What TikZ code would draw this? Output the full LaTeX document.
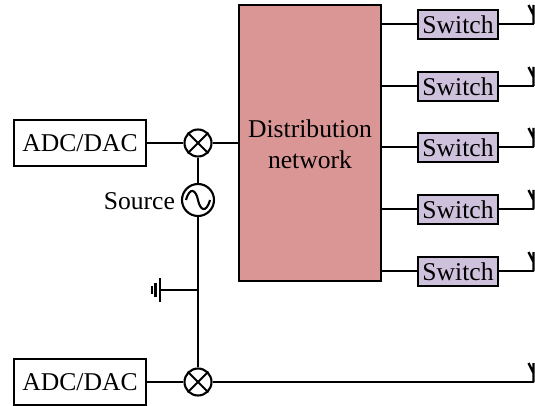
\documentclass[tikz,border=0pt]{standalone}
\usepackage{fontspec}
\setmainfont{Liberation Serif}
\begin{document}
\begin{tikzpicture}[x=1pt,y=-1pt,line width=2.1pt,
  every node/.style={font=\fontsize{25.6}{31}\selectfont},
  adcbox/.style={draw,fill=white,minimum width=132pt,minimum height=46pt,inner sep=0pt},
  switchbox/.style={draw,fill=switchfill,minimum width=80pt,minimum height=29pt,inner sep=0pt},
  mixer/.style={draw,circle,minimum size=27pt,inner sep=0pt},
  sourcec/.style={draw,circle,minimum size=32pt,inner sep=0pt},
  antenna/.style={line width=2.4pt}]
\definecolor{switchfill}{RGB}{205,193,219}
\definecolor{netfill}{RGB}{217,150,148}
\useasboundingbox (0,0) rectangle (535,406);
\node[draw,fill=netfill,minimum width=142pt,minimum height=276pt,inner sep=0pt,align=center] (net) at (310,143) {};
\node[align=center] (netlabel) at (310,144) {Distribution\\network};
\node[adcbox] (adc1) at (80,143) {ADC/DAC};
\node[adcbox] (adc2) at (80,382) {ADC/DAC};
\node[mixer] (m1) at (198,143) {};
\node[mixer] (m2) at (198,382) {};
\node[sourcec] (src) at (198,200) {};
\node[anchor=east,inner sep=0pt] (srclabel) at (176,201) {Source};
\draw (m1.north west) -- (m1.south east) (m1.north east) -- (m1.south west);
\draw (m2.north west) -- (m2.south east) (m2.north east) -- (m2.south west);
\draw (186,200) .. controls (190,186) and (196,190) .. (198,200) .. controls (200,210) and (206,214) .. (210,200);
\draw (adc1) -- (m1);
\draw (adc2) -- (m2);
\draw (m1) -- (src);
\draw (m1) -- (m1-|net.west);
\draw (src) -- (m2);
\coordinate (gj) at (198,290);
\coordinate (g1) at (160,290);
\draw (gj) -- (g1);
\draw (160,278) -- (160,302) (155.5,283) -- (155.5,297) (152,286) -- (152,294);
\foreach \n/\y in {1/24,2/86,3/147,4/209,5/271}{
  \node[switchbox] (s\n) at (458,\y+.5) {Switch};
  \draw (s\n.west|-0,\y) -- (net.east|-0,\y);
  \coordinate (a\n) at (533.5,\y);
  \draw (s\n.east|-0,\y) -- (a\n);
  \draw[antenna] (a\n) -- ++(0,-19) (a\n)++(0,-9) -- ++(-5,-10);
}
\coordinate (a6) at (533.5,382);
\draw (m2) -- (a6);
\draw[antenna] (a6) -- ++(0,-19) (a6)++(0,-9) -- ++(-5,-10);
\end{tikzpicture}
\end{document}
